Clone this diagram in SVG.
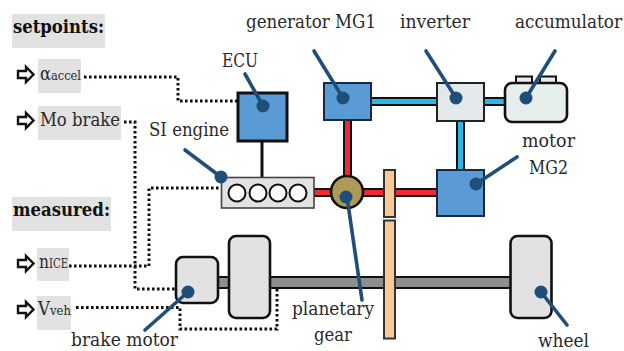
<svg xmlns="http://www.w3.org/2000/svg" width="624" height="351" viewBox="0 0 624 351">
<style>
text{font-family:"DejaVu Serif Condensed","DejaVu Serif","Liberation Serif",serif;font-size:18.500px;fill:#2a2a2a}
.b{font-weight:bold;fill:#111;font-size:19px}
.lab{fill:#e2e2e2}
.dot{fill:none;stroke:#111;stroke-width:3;stroke-dasharray:2.6 2.4}
.ptr{fill:none;stroke:#1f4e79;stroke-width:3.6;stroke-linecap:round}
.pd{fill:#1f4e79}
.hollow{fill:#fff;stroke:#111;stroke-width:2.4}
.gray{fill:#e2e2e2;stroke:#111;stroke-width:2.6}
.blue{fill:#5b9bd5;stroke:#1a2a3a;stroke-width:2}
.red{fill:#ee2a35;stroke:#111;stroke-width:2}
.cy{fill:#2fb5e6;stroke:#111;stroke-width:2}
.or{fill:#f8c997;stroke:#333;stroke-width:2}
</style>
<g id="labels">
<rect class="lab" x="12" y="14" width="93" height="34"/>
<rect class="lab" x="38" y="59" width="43" height="34"/>
<rect class="lab" x="38" y="106" width="83" height="34"/>
<rect class="lab" x="12" y="197" width="99" height="34"/>
<rect class="lab" x="37" y="248" width="32" height="33"/>
<rect class="lab" x="37" y="296" width="34" height="34"/>
<text class="b" x="13" y="33" textLength="91" lengthAdjust="spacingAndGlyphs">setpoints:</text>
<text class="b" x="13" y="216" textLength="97" lengthAdjust="spacingAndGlyphs">measured:</text>
<text x="40" y="80" font-size="20" textLength="41" lengthAdjust="spacingAndGlyphs">α<tspan font-size="13">accel</tspan></text>
<text x="40" y="126" textLength="80" lengthAdjust="spacingAndGlyphs">Mo brake</text>
<text x="39" y="268" font-size="20" textLength="29" lengthAdjust="spacingAndGlyphs">n<tspan font-size="12">ICE</tspan></text>
<text x="38" y="315" font-size="20" textLength="33" lengthAdjust="spacingAndGlyphs">V<tspan font-size="13">veh</tspan></text>
<text x="149" y="136" textLength="80" lengthAdjust="spacingAndGlyphs">SI engine</text>
<text x="222" y="67" textLength="36" lengthAdjust="spacingAndGlyphs">ECU</text>
<text x="246" y="28" textLength="130" lengthAdjust="spacingAndGlyphs">generator MG1</text>
<text x="400" y="28" textLength="70" lengthAdjust="spacingAndGlyphs">inverter</text>
<text x="515" y="28" textLength="107" lengthAdjust="spacingAndGlyphs">accumulator</text>
<text x="522" y="147" textLength="53" lengthAdjust="spacingAndGlyphs">motor</text>
<text x="529" y="174" textLength="39" lengthAdjust="spacingAndGlyphs">MG2</text>
<text x="292" y="315" textLength="82" lengthAdjust="spacingAndGlyphs">planetary</text>
<text x="314" y="341" textLength="38" lengthAdjust="spacingAndGlyphs">gear</text>
<text x="538" y="347" textLength="51" lengthAdjust="spacingAndGlyphs">wheel</text>
<text x="71" y="346" textLength="107" lengthAdjust="spacingAndGlyphs">brake motor</text>
</g>
<g id="input-arrows">
<path class="hollow" id="arrow1" d="M18 71h8v-4l7.500 7.500-7.500 7.500v-4h-8z"/>
<path class="hollow" id="arrow2" d="M18 117h8v-4l7.500 7.500-7.500 7.500v-4h-8z"/>
<path class="hollow" id="arrow3" d="M18 260h8v-4l7.500 7.500-7.500 7.500v-4h-8z"/>
<path class="hollow" id="arrow4" d="M18 306h8v-4l7.500 7.500-7.500 7.500v-4h-8z"/>
</g>
<g id="connectors">
<path class="dot" d="M84 77H178V101H237"/>
<path class="dot" d="M124 122H135V289H176"/>
<path class="dot" d="M69 266H149V188H221"/>
<path class="dot" d="M76 307.500H180V329H277V286"/>
<rect class="cy" x="371" y="98" width="66" height="7"/>
<rect class="cy" x="484" y="98" width="22" height="7"/>
<rect class="cy" x="457" y="121" width="7" height="49"/>
<rect class="red" x="344" y="120" width="7" height="58"/>
<rect class="red" x="314" y="189" width="18" height="7"/>
<rect class="red" x="362" y="189" width="24" height="7"/>
<rect class="red" x="395" y="189" width="42" height="7"/>
<path d="M262 140V178" fill="none" stroke="#111" stroke-width="3"/>
<rect x="217" y="277" width="13" height="11" fill="#8e8e8e" stroke="#111" stroke-width="2"/>
<rect x="269" y="277" width="242" height="11" fill="#8e8e8e" stroke="#111" stroke-width="2"/>
</g>
<g id="ecu"><rect x="238" y="93" width="49" height="48" fill="#5b9bd5" stroke="#111" stroke-width="3"/></g>
<g id="engine"><rect x="221.500" y="177.500" width="92.500" height="30.500" class="gray" style="stroke-width:1.600;stroke:#444"/>
<circle cx="237" cy="193" r="8.500" fill="#fff" stroke="#111" stroke-width="2"/>
<circle cx="258" cy="193" r="8.500" fill="#fff" stroke="#111" stroke-width="2"/>
<circle cx="278" cy="193" r="8.500" fill="#fff" stroke="#111" stroke-width="2"/>
<circle cx="298" cy="193" r="8.500" fill="#fff" stroke="#111" stroke-width="2"/></g>
<g id="mg1"><rect class="blue" x="324" y="83" width="47" height="37"/></g>
<g id="inverter"><rect x="437" y="83" width="47" height="38" fill="#e3e8ea" stroke="#222" stroke-width="2"/></g>
<g id="accumulator">
<path d="M516 83v-6.500h16V83M540 83v-6.500h16V83" fill="#e6eeee" stroke="#111" stroke-width="2"/>
<rect x="505" y="83" width="62" height="39" rx="7" fill="#e6eeee" stroke="#111" stroke-width="2.600"/></g>
<g id="mg2"><rect class="blue" x="437" y="170" width="47" height="46"/></g>
<g id="planetary"><circle cx="347" cy="192" r="16" fill="#ae9a58" stroke="#111" stroke-width="2.600"/></g>
<g id="gears"><rect class="or" x="384" y="170" width="11" height="47"/><rect class="or" x="384" y="220.500" width="11" height="118"/></g>
<g id="brake-motor"><rect class="gray" x="176" y="257" width="42" height="46" rx="7"/></g>
<g id="disc"><rect class="gray" x="229" y="236" width="41" height="82" rx="7"/></g>
<g id="wheel"><rect class="gray" x="510.500" y="236" width="41" height="82" rx="7"/></g>
<g id="pointers">
<path class="ptr" d="M185 150L221 177"/><circle class="pd" cx="221" cy="177" r="6.500"/>
<path class="ptr" d="M245 74L263 106"/><circle class="pd" cx="263" cy="106" r="6.500"/>
<path class="ptr" d="M314 51L343 98"/><circle class="pd" cx="343" cy="98" r="6.500"/>
<path class="ptr" d="M426 51L456 98"/><circle class="pd" cx="456" cy="98" r="6.500"/>
<path class="ptr" d="M555 51L526 98"/><circle class="pd" cx="526" cy="98" r="6.500"/>
<path class="ptr" d="M517 157L476 184"/><circle class="pd" cx="476" cy="184" r="6.500"/>
<path class="ptr" d="M347 197L362 300"/><circle class="pd" cx="346" cy="197" r="6.500"/>
<path class="ptr" d="M541 292L567 325"/><circle class="pd" cx="541" cy="292" r="6.500"/>
<path class="ptr" d="M188 292L145 330"/><circle class="pd" cx="188" cy="292" r="6.500"/>
</g>
</svg>
